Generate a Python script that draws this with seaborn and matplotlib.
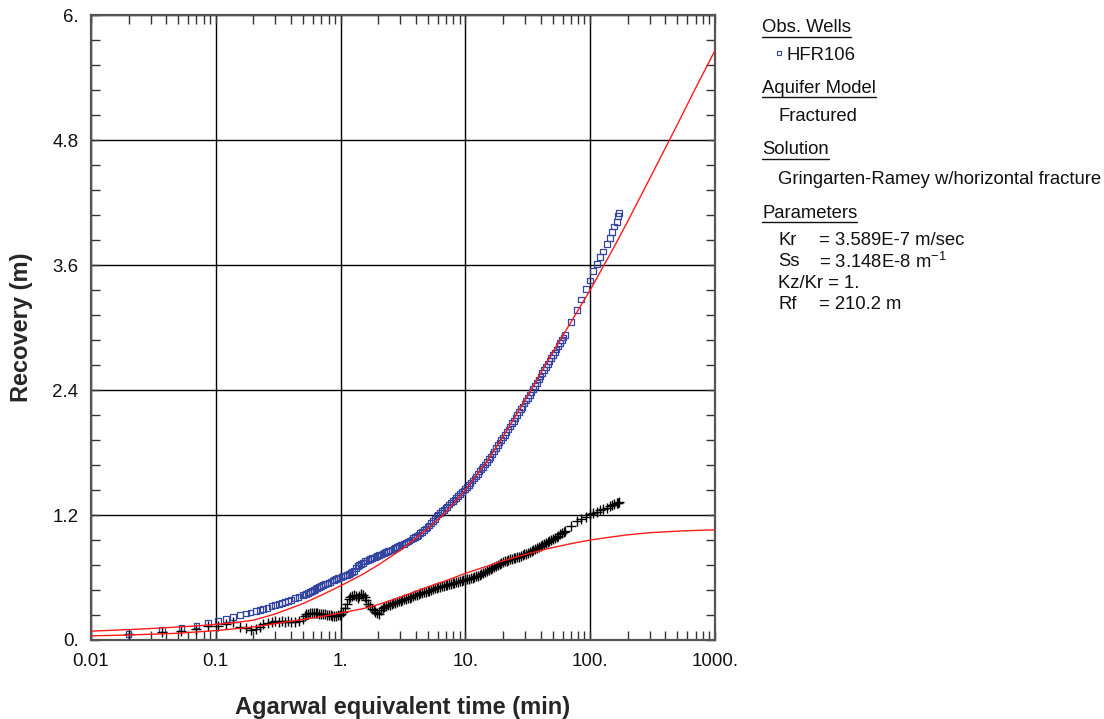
import matplotlib
matplotlib.use("Agg")
import matplotlib.pyplot as plt
from matplotlib.lines import Line2D
from matplotlib.ticker import LogLocator, MultipleLocator, NullFormatter
import pandas as pd
import seaborn as sns

sns.set_style("ticks")
plt.rcParams['font.family'] = ['Liberation Sans', 'DejaVu Sans']
plt.rcParams['mathtext.fontset'] = 'custom'
plt.rcParams['mathtext.rm'] = 'Liberation Sans'

# ---- observed recovery data for HFR106 (time, recovery, derivative) ----
time_min = [
    0.02, 0.037, 0.053, 0.07, 0.087, 0.104, 0.121, 0.138, 0.156, 0.174,
    0.19, 0.21, 0.226, 0.24, 0.26, 0.28, 0.30, 0.32, 0.34, 0.36,
    0.38, 0.40, 0.43, 0.46,
    0.50, 0.515, 0.53, 0.55, 0.57, 0.59, 0.61, 0.63, 0.65, 0.675,
    0.70, 0.725, 0.75, 0.775, 0.80, 0.83, 0.86, 0.89, 0.92, 0.95,
    0.98, 1.015, 1.05, 1.085, 1.12, 1.16, 1.20, 1.24, 1.28, 1.32,
    1.37, 1.41, 1.46, 1.51, 1.56, 1.61, 1.67, 1.72, 1.78, 1.84,
    1.90, 1.96, 2.03, 2.10, 2.17, 2.24, 2.32, 2.40, 2.48, 2.56,
    2.65, 2.74, 2.83, 2.92, 3.02, 3.12, 3.23, 3.34, 3.45, 3.57,
    3.69, 3.81, 3.94, 4.07, 4.21, 4.35, 4.50, 4.65, 4.81, 4.97,
    5.14, 5.31, 5.49, 5.68, 5.87, 6.07, 6.27, 6.48, 6.70, 6.93,
    7.16, 7.40, 7.65, 7.91, 8.17, 8.45, 8.73, 9.03, 9.33, 9.65,
    9.97, 10.3, 10.65, 11.0, 11.4, 11.8, 12.2, 12.6, 13.0, 13.45,
    13.9, 14.4, 14.9, 15.4, 15.9, 16.45, 17.0, 17.6, 18.2, 18.8,
    19.4, 20.0, 20.7, 21.4, 22.1, 22.8, 23.6, 24.4, 25.2, 26.0,
    26.9, 27.8, 28.7, 29.7, 30.7, 31.7, 32.8, 33.9, 35.0, 36.2,
    37.4, 38.7, 40.0, 41.3, 42.7, 44.1, 45.6, 47.1, 48.7, 50.3,
    52.0, 53.8, 55.6, 57.5, 59.4, 61.2, 63.0,
    70.2, 78.0, 84.3, 92.5, 99.6, 106, 113, 120, 127, 136,
    144, 150, 155, 163, 167, 171,
]

recovery_m = [
    0.058, 0.10, 0.115, 0.14, 0.166, 0.185, 0.20, 0.22, 0.24, 0.255,
    0.265, 0.28, 0.29, 0.30, 0.31, 0.325, 0.335, 0.345, 0.355, 0.365,
    0.375, 0.385, 0.40, 0.41,
    0.43, 0.437, 0.445, 0.452, 0.46, 0.47, 0.48, 0.49, 0.50, 0.51,
    0.52, 0.527, 0.535, 0.542, 0.55, 0.56, 0.57, 0.578, 0.585, 0.592,
    0.60, 0.607, 0.615, 0.62, 0.625, 0.632, 0.64, 0.65, 0.66, 0.69,
    0.71, 0.72, 0.73, 0.742, 0.755, 0.762, 0.77, 0.778, 0.785, 0.792,
    0.80, 0.807, 0.815, 0.822, 0.83, 0.837, 0.845, 0.852, 0.86, 0.867,
    0.875, 0.882, 0.89, 0.90, 0.91, 0.917, 0.925, 0.935, 0.945, 0.955,
    0.965, 0.977, 0.99, 1.00, 1.01, 1.025, 1.04, 1.055, 1.07, 1.085,
    1.10, 1.12, 1.14, 1.165, 1.19, 1.205, 1.22, 1.235, 1.25, 1.265,
    1.28, 1.30, 1.32, 1.335, 1.35, 1.365, 1.38, 1.40, 1.42, 1.435,
    1.45, 1.47, 1.49, 1.51, 1.53, 1.55, 1.57, 1.595, 1.62, 1.64,
    1.66, 1.685, 1.71, 1.735, 1.76, 1.785, 1.81, 1.84, 1.87, 1.895,
    1.92, 1.945, 1.97, 1.995, 2.02, 2.05, 2.08, 2.105, 2.13, 2.16,
    2.19, 2.215, 2.24, 2.27, 2.30, 2.325, 2.35, 2.38, 2.41, 2.44,
    2.47, 2.50, 2.53, 2.56, 2.59, 2.62, 2.65, 2.68, 2.71, 2.735,
    2.76, 2.79, 2.82, 2.85, 2.88, 2.905, 2.93,
    3.05, 3.165, 3.27, 3.37, 3.45, 3.54, 3.61, 3.68, 3.73, 3.80,
    3.86, 3.92, 3.97, 4.01, 4.07, 4.10,
]

derivative_m = [
    0.058, 0.08, 0.086, 0.11, 0.13, 0.134, 0.154, 0.173, 0.128, 0.118,
    0.096, 0.11, 0.128, 0.15, 0.165, 0.175, 0.18, 0.176, 0.18, 0.175,
    0.18, 0.172, 0.176, 0.185,
    0.20, 0.23, 0.25, 0.252, 0.255, 0.258, 0.26, 0.258, 0.255, 0.252,
    0.25, 0.248, 0.245, 0.242, 0.24, 0.236, 0.232, 0.233, 0.235, 0.238,
    0.24, 0.25, 0.27, 0.31, 0.35, 0.39, 0.41, 0.425, 0.43, 0.42,
    0.40, 0.42, 0.44, 0.43, 0.41, 0.38, 0.35, 0.325, 0.30, 0.285,
    0.27, 0.255, 0.25, 0.29, 0.305, 0.315, 0.325, 0.333, 0.34, 0.348,
    0.355, 0.36, 0.365, 0.37, 0.375, 0.382, 0.39, 0.395, 0.40, 0.407,
    0.415, 0.422, 0.43, 0.435, 0.44, 0.447, 0.455, 0.46, 0.465, 0.47,
    0.475, 0.482, 0.49, 0.495, 0.50, 0.505, 0.51, 0.515, 0.52, 0.525,
    0.53, 0.535, 0.54, 0.545, 0.55, 0.555, 0.56, 0.565, 0.57, 0.575,
    0.58, 0.585, 0.59, 0.595, 0.60, 0.605, 0.61, 0.615, 0.62, 0.63,
    0.64, 0.65, 0.66, 0.67, 0.68, 0.69, 0.70, 0.71, 0.72, 0.73,
    0.74, 0.748, 0.755, 0.762, 0.77, 0.775, 0.78, 0.785, 0.79, 0.795,
    0.80, 0.807, 0.815, 0.822, 0.83, 0.837, 0.845, 0.852, 0.86, 0.87,
    0.88, 0.89, 0.90, 0.91, 0.92, 0.93, 0.94, 0.95, 0.96, 0.97,
    0.98, 0.99, 1.00, 1.015, 1.03, 1.04, 1.05,
    1.09, 1.14, 1.16, 1.18, 1.21, 1.22, 1.23, 1.25, 1.26, 1.27,
    1.29, 1.30, 1.31, 1.315, 1.32, 1.325,
]

# ---- Gringarten-Ramey type curves (recovery and derivative) ----
model_time = [0.01, 0.02, 0.03, 0.05, 0.07, 0.1, 0.15, 0.2, 0.3, 0.5,
              0.7, 1, 1.5, 2, 3, 5, 7, 10, 15, 20, 30, 50, 70, 100, 150,
              200, 300, 500, 700, 1000]
model_recovery = [0.085, 0.10, 0.11, 0.125, 0.135, 0.15, 0.17, 0.19, 0.25,
                  0.35, 0.43, 0.52, 0.63, 0.72, 0.86, 1.07, 1.23, 1.44,
                  1.72, 1.95, 2.30, 2.76, 3.05, 3.36, 3.74, 4.02, 4.43,
                  4.95, 5.30, 5.66]

deriv_time = [0.01, 0.02, 0.05, 0.1, 0.2, 0.4, 0.7, 1, 1.5, 2, 3, 5, 7,
              10, 15, 20, 30, 47, 70, 100, 150, 200, 300, 500, 700, 1000]
model_derivative = [0.04, 0.048, 0.065, 0.09, 0.125, 0.18, 0.225, 0.26,
                    0.30, 0.34, 0.41, 0.51, 0.57, 0.64, 0.71, 0.76, 0.82,
                    0.88, 0.925, 0.96, 0.99, 1.01, 1.03, 1.045, 1.052,
                    1.057]

x_ticks = [0.01, 0.1, 1, 10, 100, 1000]
x_tick_labels = ["0.01", "0.1", "1.", "10.", "100.", "1000."]
y_ticks = [0, 1.2, 2.4, 3.6, 4.8, 6.0]
y_tick_labels = ["0.", "1.2", "2.4", "3.6", "4.8", "6."]

obs = pd.DataFrame({"t": time_min, "rec": recovery_m, "der": derivative_m})
fit = pd.DataFrame({"t": model_time, "rec": model_recovery})
fit_d = pd.DataFrame({"t": deriv_time, "der": model_derivative})

W, H = 1104, 719
fig = plt.figure(figsize=(W / 100, H / 100), dpi=100)
ax = fig.add_axes([91 / W, 79 / H, 624 / W, 625 / H])

blue = "#3446a0"
red = "#ff1a1a"

# observed points first, fitted curves drawn on top of them
sns.scatterplot(data=obs, x="t", y="rec", ax=ax, marker="s", s=17,
                linewidth=0.9, zorder=3)
ax.collections[-1].set_facecolor("none")
ax.collections[-1].set_edgecolor(blue)
sns.scatterplot(data=obs, x="t", y="der", ax=ax, marker="+", s=45,
                color="black", linewidth=1.0, zorder=3)
sns.lineplot(data=fit, x="t", y="rec", ax=ax, color=red, lw=1.0,
             estimator=None, sort=False, zorder=5)
sns.lineplot(data=fit_d, x="t", y="der", ax=ax, color=red, lw=1.0,
             estimator=None, sort=False, zorder=5)

ax.set_xscale("log")
ax.set_xlim(0.01, 1000)
ax.set_ylim(0, 6)
ax.set_xticks(x_ticks)
ax.set_xticklabels(x_tick_labels)
ax.xaxis.set_minor_locator(LogLocator(base=10, subs=range(2, 10), numticks=20))
ax.xaxis.set_minor_formatter(NullFormatter())
ax.set_yticks(y_ticks)
ax.set_yticklabels(y_tick_labels)
ax.yaxis.set_minor_locator(MultipleLocator(0.24))

ax.tick_params(which="both", direction="in", top=True, right=True,
               length=6.5, width=1.0, color="#333333")
ax.tick_params(which="major", labelsize=13.5, pad=9, labelcolor="#111111")
ax.grid(which="major", color="black", lw=1.0)
ax.set_axisbelow(True)
for sp in ax.spines.values():
    sp.set_color("#555555")
    sp.set_linewidth(1.6)

ax.set_xlabel("Agarwal equivalent time (min)", fontsize=17,
              fontweight="bold", labelpad=19)
ax.set_ylabel("Recovery (m)", fontsize=17, fontweight="bold", labelpad=14)

# ---- side panel with well, model and parameter summary ----
def ftext(x, y, s, **kw):
    return fig.text(x / W, 1 - y / H, s, fontsize=13.3, va="center",
                    ha="left", color="#111111", **kw)

headers = [ftext(762, 28, "Obs. Wells"),
           ftext(762, 88.5, "Aquifer Model"),
           ftext(762, 150, "Solution"),
           ftext(762, 213.5, "Parameters")]
ftext(787, 56, "HFR106")
fig.add_artist(Line2D([779 / W], [1 - 52.5 / H], marker="s", ms=3.2,
                      mfc="none", mec=blue, mew=0.8, ls="none"))
ftext(778, 116.5, "Fractured")
ftext(778, 179, "Gringarten-Ramey w/horizontal fracture")
ftext(778, 240.5, "Kr")
ftext(819, 240.5, "= 3.589E-7 m/sec")
ftext(778, 261.5, "Ss")
ftext(819, 261.5, r"= 3.148E-8 m$\mathregular{^{-1}}$")
ftext(778, 283.5, "Kz/Kr = 1.")
ftext(778, 304.5, "Rf")
ftext(819, 304.5, "= 210.2 m")

fig.canvas.draw()
renderer = fig.canvas.get_renderer()
for t in headers:
    bb = t.get_window_extent(renderer)
    yc = (bb.y0 + bb.y1) / 2 - 8.5
    fig.add_artist(Line2D([bb.x0 / W, bb.x1 / W], [yc / H, yc / H],
                          color="#111111", lw=1.0))

fig.savefig("out.png", dpi=100)
